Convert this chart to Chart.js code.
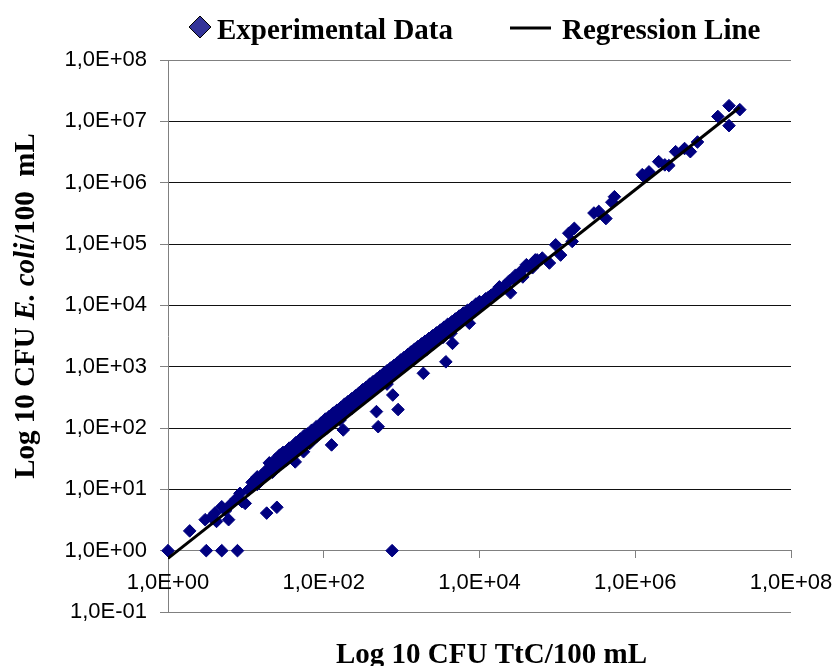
<!DOCTYPE html>
<html>
<head>
<meta charset="utf-8">
<script src="https://cdn.jsdelivr.net/npm/chart.js@4.4.0/dist/chart.umd.min.js"></script>
<style>
  html, body { margin: 0; padding: 0; background: #fff; }
  #wrap { position: relative; width: 835px; height: 666px; }
</style>
</head>
<body>
<div id="wrap"><canvas id="chart"></canvas></div>
<script>
// TtC (x) and E. coli (y) counts, CFU/100 mL
const ttc = [
  1, 3.1, 4.9, 7.8, 755, 1.9, 3.0, 3.6, 4.0, 4.2, 4.9, 5.5, 6.0, 6.3, 7.5, 8.4, 8.9, 9.8,
  10.8, 12, 13, 14, 15, 16, 17, 18.5, 25, 19, 20, 22, 23, 25, 27, 28, 30, 33, 35, 38,
  40, 43, 45, 48, 52, 55, 58, 60, 66, 68, 70, 75, 81, 85, 90, 95, 98,
  105, 110, 118, 120, 126, 130, 135, 145, 150, 162, 165, 178, 180, 190, 200, 215, 230,
  240, 250, 265, 280, 295, 310, 325, 340, 360, 380, 400, 420, 440, 460, 475, 480, 500,
  500, 520, 550, 580, 600, 630, 650, 680, 700, 740, 770, 780, 820, 850, 900, 900, 950,
  980, 1000, 1050, 1100, 1150, 1200, 1250, 1300, 1350, 1400, 1500, 1550, 1600, 1700,
  1800, 1900, 1900, 2000, 2100, 2200, 2300, 2500, 2600, 2800, 2900, 3100, 3300, 3400,
  3600, 3700, 3700, 4000, 4100, 4300, 4500, 4500, 4800, 5000, 5300, 5500, 5800, 6100,
  6500, 6800, 7200, 7400, 7500, 8000, 8500, 9000, 9500,
  1.0e4, 1.05e4, 1.15e4, 1.2e4, 1.3e4, 1.4e4, 1.55e4, 1.65e4, 1.8e4, 1.9e4, 2.1e4,
  2.4e4, 2.5e4, 2.7e4, 2.9e4, 3.1e4, 3.4e4, 3.6e4, 4.0e4, 4.3e4, 4.8e4, 5.2e4, 5.5e4,
  6.4e4, 7.9e4, 9.5e4, 1.1e5, 1.4e5, 1.55e5, 1.65e5, 2.95e5, 3.4e5, 4.2e5, 5.0e5, 5.4e5,
  1.23e6, 1.3e6, 1.5e6, 2.0e6, 2.4e6, 2.7e6, 3.3e6, 4.3e6, 5.1e6, 6.3e6,
  1.15e7, 1.6e7, 1.6e7, 2.2e7,
  12, 14, 16, 18, 21, 24, 26, 29, 32, 34, 37, 39, 42, 46, 50, 53, 57, 63, 65, 72, 78,
  83, 88, 93, 100, 103, 108, 115, 125, 140, 155, 158, 170, 185, 195, 210, 220, 235,
  245, 260, 270, 290, 300, 320, 335, 350, 370, 390, 410, 430, 450, 470, 490, 510, 540,
  560, 590, 620, 660, 690, 720, 760, 800, 830, 870, 920, 960, 1020, 1080, 1130, 1180,
  1230, 1280, 1330, 1420, 1460, 1520, 1650, 1750, 1850, 1950, 2050, 2150, 2400, 2450,
  2700, 3000, 3200, 3500, 3800, 4200, 4600, 4900, 5200, 5700, 6000, 6300, 6700, 7000,
  7800, 8300, 8800, 9300, 9800,
  20, 24, 30, 36, 44, 50, 56, 62, 70, 80, 92, 105, 118, 132, 148, 165, 185, 205, 228,
  255, 285, 315, 350, 390, 430, 480, 530, 590, 650, 720, 800, 880, 970, 1080, 1200,
  1320, 1460, 1620, 1800, 2000, 2250, 2500, 2800, 3150, 3500, 3900, 4400, 4900, 5500,
  6200, 7000, 8000, 9000, 1.0e4
];
const ecoli = [
  1, 1, 1, 1, 1, 2.1, 3.2, 3.5, 4.1, 3.0, 5.2, 4.5, 3.2, 5.6, 7.0, 8.6, 6.3, 5.9,
  9.8, 11, 14, 12, 15, 17, 16, 4.1, 5.1, 18, 21, 19, 24, 25, 36, 26, 28, 30, 34, 37,
  45, 28, 42, 50, 48, 41, 62, 55, 56, 72, 68, 80, 72, 90, 85, 100, 93,
  110, 100, 125, 115, 53, 140, 130, 155, 140, 135, 175, 93, 175, 200, 190, 225, 210,
  255, 250, 280, 270, 320, 300, 350, 320, 390, 380, 430, 400, 470, 500, 185, 470, 105,
  540, 480, 600, 620, 600, 680, 520, 720, 700, 800, 345, 760, 880, 860, 200, 960, 900,
  1080, 1000, 1150, 1050, 1250, 1250, 1350, 1200, 1500, 1500, 1400, 1700, 1700, 1600,
  1950, 780, 2000, 2200, 1900, 2400, 2400, 2300, 2800, 2800, 3100, 3200, 3500, 3000,
  3900, 1200, 3800, 4300, 4000, 3500, 2400, 4600, 5000, 5200, 5600, 5000, 6200, 6300,
  6600, 6000, 7500, 5100, 7600, 8400, 8800, 9500, 9000,
  1.05e4, 1.1e4, 1.1e4, 1.28e4, 1.35e4, 1.45e4, 1.5e4, 1.75e4, 2.0e4, 1.8e4, 2.1e4,
  2.5e4, 1.6e4, 2.75e4, 3.1e4, 3.0e4, 3.6e4, 2.9e4, 4.6e4, 4.2e4, 4.1e4, 5.5e4, 5.5e4,
  5.9e4, 4.9e4, 9.7e4, 6.6e4, 1.5e5, 1.1e5, 1.8e5, 3.2e5, 3.4e5, 2.6e5, 4.8e5, 5.9e5,
  1.35e6, 1.25e6, 1.5e6, 2.2e6, 1.95e6, 1.9e6, 3.2e6, 3.6e6, 3.2e6, 4.6e6,
  1.2e7, 1.8e7, 8.5e6, 1.55e7,
  13, 16, 15, 20, 23, 22, 29, 32, 35, 31, 41, 36, 47, 44, 55, 58, 53, 70, 60, 78, 85,
  78, 97, 88, 110, 95, 120, 108, 135, 150, 170, 148, 185, 195, 215, 200, 240, 260,
  230, 285, 250, 310, 330, 300, 370, 340, 410, 370, 450, 420, 490, 450, 530, 560, 520,
  610, 570, 660, 720, 650, 790, 740, 870, 800, 950, 880, 1050, 1120, 1000, 1230, 1130,
  1330, 1400, 1250, 1550, 1350, 1650, 1800, 1700, 2050, 1850, 2250, 2000, 2650, 2300,
  2900, 3300, 3000, 3800, 3600, 4600, 4400, 5400, 4900, 6100, 5600, 6900, 6400, 7600,
  8200, 7800, 9600, 10000, 9400,
  27, 31, 40, 47, 58, 66, 75, 80, 92, 105, 120, 140, 155, 175, 195, 215, 245, 270, 300,
  335, 375, 420, 460, 520, 570, 630, 700, 780, 860, 950, 1050, 1150, 1280, 1420, 1580,
  1740, 1920, 2130, 2350, 2600, 2900, 3200, 3550, 3950, 4400, 4900, 5400, 6000, 6700,
  7500, 8300, 9300, 1.05e4, 1.15e4
];

// regression line end points
const fitX = [1, 2.2e7];
const fitY = [0.75, 1.7e7];

const yTicks = [1e-1, 1e0, 1e1, 1e2, 1e3, 1e4, 1e5, 1e6, 1e7, 1e8];
const xTicks = [1e0, 1e2, 1e4, 1e6, 1e8];

const legendLabels = ['Experimental Data', 'Regression Line'];
const xTitle = 'Log 10 CFU TtC/100 mL';
const yTitleParts = ['Log 10 CFU ', 'E. coli', '/100  mL'];

// 1,0E+08 style labels (comma decimal)
function sci(v) {
  const e = Math.round(Math.log10(v));
  return '1,0E' + (e < 0 ? '-' : '+') + String(Math.abs(e)).padStart(2, '0');
}

const SERIF = '"Liberation Serif", "Times New Roman", serif';
const SANS = '"Liberation Sans", Arial, sans-serif';

// ── titles + legend drawn on top ──
const decorPlugin = {
  id: 'decor',
  afterDraw(chart) {
    const ctx = chart.ctx;
    const area = chart.chartArea;
    ctx.save();
    ctx.fillStyle = '#000';
    ctx.textBaseline = 'alphabetic';

    // legend
    const ly = 27;
    ctx.beginPath();
    ctx.moveTo(200, ly - 11);
    ctx.lineTo(211, ly);
    ctx.lineTo(200, ly + 11);
    ctx.lineTo(189, ly);
    ctx.closePath();
    ctx.fillStyle = '#333399';
    ctx.fill();
    ctx.strokeStyle = '#000';
    ctx.lineWidth = 1;
    ctx.stroke();
    ctx.fillStyle = '#000';
    ctx.font = 'bold 29px ' + SERIF;
    ctx.textAlign = 'left';
    ctx.fillText(legendLabels[0], 217, 39);
    ctx.beginPath();
    ctx.moveTo(510, ly + 1);
    ctx.lineTo(551, ly + 1);
    ctx.lineWidth = 3;
    ctx.stroke();
    ctx.fillText(legendLabels[1], 562, 39);

    // x title
    ctx.textAlign = 'center';
    ctx.fillText(xTitle, (area.left + area.right) / 2 + 12, 663);

    // y title, rotated, with italic species name
    const fonts = ['bold 29px ' + SERIF, 'italic bold 29px ' + SERIF, 'bold 29px ' + SERIF];
    let total = 0;
    const widths = yTitleParts.map((t, i) => { ctx.font = fonts[i]; const w = ctx.measureText(t).width; total += w; return w; });
    ctx.translate(34, 306);
    ctx.rotate(-Math.PI / 2);
    ctx.textAlign = 'left';
    let x = -total / 2;
    yTitleParts.forEach((t, i) => { ctx.font = fonts[i]; ctx.fillText(t, x, 0); x += widths[i]; });
    ctx.restore();
  }
};

new Chart(document.getElementById('chart'), {
  type: 'scatter',
  data: {
    datasets: [
      {
        label: legendLabels[1],
        type: 'line',
        data: fitX.map((x, i) => ({ x, y: fitY[i] })),
        borderColor: '#000',
        borderWidth: 3,
        pointRadius: 0,
        fill: false,
        order: 0
      },
      {
        label: legendLabels[0],
        data: ttc.map((x, i) => ({ x, y: ecoli[i] })),
        pointStyle: 'rectRot',
        pointRadius: 6.3,
        pointBackgroundColor: '#000080',
        pointBorderColor: '#000080',
        pointBorderWidth: 1,
        clip: false,
        order: 1
      }
    ]
  },
  options: {
    responsive: true,
    maintainAspectRatio: false,
    animation: false,
    events: [],
    layout: { padding: { top: 60, left: 0, right: 44, bottom: 54 } },
    plugins: { legend: { display: false }, tooltip: { enabled: false } },
    scales: {
      y: {
        type: 'logarithmic',
        min: 1e-1,
        max: 1e8,
        afterBuildTicks: (s) => { s.ticks = yTicks.map(v => ({ value: v })); },
        afterFit: (s) => { s.width = 168; s.paddingTop = 0; s.paddingBottom = 0; },
        ticks: {
          autoSkip: false,
          padding: 13,
          color: '#000',
          font: { family: SANS, size: 22 },
          callback: (v) => sci(v)
        },
        grid: {
          color: (c) => (c.tick && (c.tick.value === 1e8 || c.tick.value === 1e-1)) ? '#808080' : '#111',
          tickColor: '#808080',
          tickLength: 8,
          lineWidth: 1
        },
        border: { color: '#808080', width: 1 }
      },
      x: {
        type: 'logarithmic',
        min: 1,
        max: 1e8,
        position: { y: 1 },
        afterBuildTicks: (s) => { s.ticks = xTicks.map(v => ({ value: v })); },
        afterFit: (s) => { s.paddingLeft = 0; s.paddingRight = 0; },
        ticks: {
          autoSkip: false,
          maxRotation: 0,
          padding: 12,
          color: '#000',
          font: { family: SANS, size: 22 },
          callback: (v) => sci(v)
        },
        grid: {
          drawOnChartArea: false,
          drawTicks: true,
          tickLength: 7,
          tickColor: '#808080',
          color: '#808080'
        },
        border: { color: '#808080', width: 1 }
      }
    }
  },
  plugins: [decorPlugin]
});
</script>
</body>
</html>
